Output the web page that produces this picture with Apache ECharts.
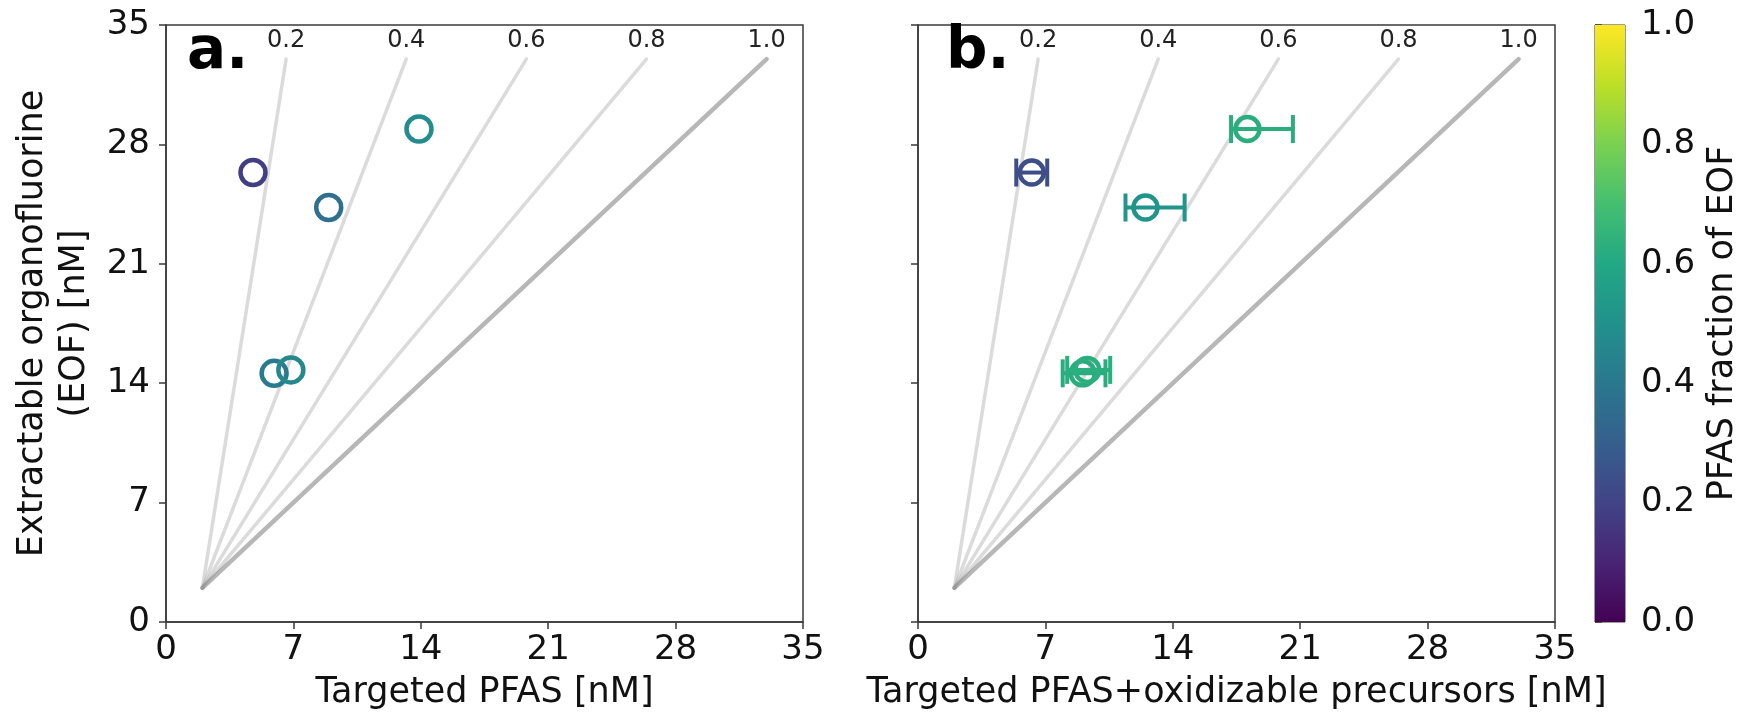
<!DOCTYPE html>
<html><head><meta charset="utf-8">
<script src="https://cdn.jsdelivr.net/npm/echarts@6/dist/echarts.min.js"></script>
<style>html,body{margin:0;padding:0;background:#fff}#c{width:1745px;height:717px}</style>
</head><body><div id="c"></div>
<script>
// ---- data ----
const axisMin = 0, axisMax = 35, axisStep = 7;
const ratioLines = [0.2, 0.4, 0.6, 0.8, 1.0];
const ratioLineStart = [2, 2];
const ratioLineTopEOF = 33;
const ratioLabelEOF = 34.1;
const eof = [26.35, 24.3, 28.9, 14.58, 14.78];
const targetedPFAS = [4.78, 8.94, 13.9, 5.94, 6.86];
const totalPFAS = [6.25, 12.5, 18.1, 9.05, 9.3];
const totalPFASLow = [5.4, 11.4, 17.2, 7.95, 8.2];
const totalPFASHigh = [7.1, 14.65, 20.6, 10.3, 10.56];
const colorbarMin = 0, colorbarMax = 1, colorbarStep = 0.2;
const viridis = ['#440154','#482475','#414487','#355f8d','#2a788e','#21918c','#22a884','#44bf70','#7ad151','#bddf26','#fde725'];

const FONT = '"DejaVu Sans", "Liberation Sans", sans-serif';
const AX = '#3a3a3a';
const TXT = '#111';

const ratioData = ratioLines.map(f => [f * ratioLineTopEOF, ratioLineTopEOF, f]);
const dataA = targetedPFAS.map((x, i) => [x, eof[i], x / eof[i]]);
const dataB = totalPFAS.map((x, i) => [x, eof[i], x / eof[i], totalPFASLow[i], totalPFASHigh[i]]);

function ratioRender(params, api) {
  const f = api.value(2);
  const p0 = api.coord(ratioLineStart);
  const p1 = api.coord([api.value(0), api.value(1)]);
  const pl = api.coord([api.value(0), ratioLabelEOF]);
  const main = f === 1;
  return {type: 'group', children: [
    {type: 'line', shape: {x1: p0[0], y1: p0[1], x2: p1[0], y2: p1[1]},
     style: {stroke: main ? 'rgba(135,135,135,0.6)' : 'rgba(175,175,175,0.45)', lineWidth: main ? 4.5 : 3.5, lineCap: 'round'}},
    {type: 'text', x: pl[0], y: pl[1],
     style: {text: f.toFixed(1), font: '24px ' + FONT, fill: '#222', align: 'center', verticalAlign: 'middle'}}
  ]};
}
function markerRender(params, api) {
  const c = api.coord([api.value(0), api.value(1)]);
  return {type: 'circle', shape: {cx: c[0], cy: c[1], r: 12.5},
    style: {fill: 'none', stroke: api.visual('color'), lineWidth: 4.5}};
}
function errRender(params, api) {
  const c = api.coord([api.value(0), api.value(1)]);
  const lo = api.coord([api.value(3), api.value(1)]);
  const hi = api.coord([api.value(4), api.value(1)]);
  const col = api.visual('color');
  const cap = 14, lw = 4;
  return {type: 'group', children: [
    {type: 'line', shape: {x1: lo[0], y1: c[1], x2: hi[0], y2: c[1]}, style: {stroke: col, lineWidth: lw}},
    {type: 'line', shape: {x1: lo[0], y1: c[1] - cap, x2: lo[0], y2: c[1] + cap}, style: {stroke: col, lineWidth: lw}},
    {type: 'line', shape: {x1: hi[0], y1: c[1] - cap, x2: hi[0], y2: c[1] + cap}, style: {stroke: col, lineWidth: lw}},
    {type: 'circle', shape: {cx: c[0], cy: c[1], r: 12}, style: {fill: 'none', stroke: col, lineWidth: 4.5}}
  ]};
}
function colorbarRender(params, api) {
  const p0 = api.coord([0, colorbarMin]);
  const p1 = api.coord([1, colorbarMax]);
  return {type: 'rect', shape: {x: p0[0], y: p1[1], width: p1[0] - p0[0], height: p0[1] - p1[1]},
    style: {fill: new echarts.graphic.LinearGradient(0, 1, 0, 0,
      viridis.map((c, i) => ({offset: i / (viridis.length - 1), color: c})))}};
}

function xAx(gi, name) {
  return {gridIndex: gi, type: 'value', min: axisMin, max: axisMax, interval: axisStep,
    axisLine: {show: true, onZero: false, lineStyle: {color: AX, width: 1.5}},
    axisTick: {show: true, inside: false, length: 7, lineStyle: {color: AX, width: 1.5}},
    axisLabel: {fontSize: 34, fontFamily: FONT, color: TXT, margin: 11},
    splitLine: {show: false},
    name: name, nameLocation: 'middle', nameGap: 53,
    nameTextStyle: {fontSize: 35, fontFamily: FONT, color: TXT}};
}
function yAx(gi, labels) {
  const a = {gridIndex: gi, type: 'value', min: axisMin, max: axisMax, interval: axisStep,
    axisLine: {show: true, onZero: false, lineStyle: {color: AX, width: 1.5}},
    axisTick: {show: true, inside: false, length: 7, lineStyle: {color: AX, width: 1.5}},
    axisLabel: {show: labels, fontSize: 34, fontFamily: FONT, color: TXT, margin: 16},
    splitLine: {show: false}};
  if (labels) {
    a.name = 'Extractable organofluorine\n(EOF) [nM]';
    a.nameLocation = 'middle'; a.nameRotate = 90; a.nameGap = 70;
    a.nameTextStyle = {fontSize: 35, fontFamily: FONT, color: TXT, lineHeight: 42};
  }
  return a;
}

const chart = echarts.init(document.getElementById('c'), null, {renderer: 'canvas'});
chart.setOption({
  backgroundColor: '#fff',
  animation: false,
  grid: [
    {left: 166, top: 25, width: 637, height: 597, show: true, borderColor: AX, borderWidth: 1.5, backgroundColor: 'transparent'},
    {left: 918, top: 25, width: 637, height: 597, show: true, borderColor: AX, borderWidth: 1.5, backgroundColor: 'transparent'},
    {left: 1595, top: 25, width: 30, height: 597, show: true, borderColor: AX, borderWidth: 1, backgroundColor: 'transparent'}
  ],
  xAxis: [
    xAx(0, 'Targeted PFAS [nM]'),
    xAx(1, 'Targeted PFAS+oxidizable precursors [nM]'),
    {gridIndex: 2, type: 'value', min: 0, max: 1, show: false}
  ],
  yAxis: [
    yAx(0, true),
    yAx(1, false),
    {gridIndex: 2, type: 'value', position: 'right', min: colorbarMin, max: colorbarMax, interval: colorbarStep,
     axisLine: {show: true, lineStyle: {color: AX, width: 1}},
     axisTick: {show: true, inside: false, length: 7, lineStyle: {color: AX, width: 1.5}},
     axisLabel: {fontSize: 34, fontFamily: FONT, color: TXT, margin: 16, formatter: v => v.toFixed(1)},
     splitLine: {show: false},
     name: 'PFAS fraction of EOF', nameLocation: 'middle', nameRotate: 90, nameGap: 80,
     nameTextStyle: {fontSize: 35, fontFamily: FONT, color: TXT}}
  ],
  visualMap: {type: 'continuous', show: false, min: colorbarMin, max: colorbarMax, dimension: 2,
    seriesIndex: [1, 3], inRange: {color: viridis}},
  graphic: [
    {type: 'text', left: 187, top: 24, style: {text: 'a.', font: 'bold 58px ' + FONT, fill: '#000'}},
    {type: 'text', left: 946, top: 24, style: {text: 'b.', font: 'bold 58px ' + FONT, fill: '#000'}}
  ],
  series: [
    {type: 'custom', xAxisIndex: 0, yAxisIndex: 0, renderItem: ratioRender, data: ratioData, encode: {x: 0, y: 1}, z: 1, silent: true},
    {type: 'custom', xAxisIndex: 0, yAxisIndex: 0, renderItem: markerRender, data: dataA, encode: {x: 0, y: 1}, z: 3},
    {type: 'custom', xAxisIndex: 1, yAxisIndex: 1, renderItem: ratioRender, data: ratioData, encode: {x: 0, y: 1}, z: 1, silent: true},
    {type: 'custom', xAxisIndex: 1, yAxisIndex: 1, renderItem: errRender, data: dataB, encode: {x: 0, y: 1}, z: 3},
    {type: 'custom', xAxisIndex: 2, yAxisIndex: 2, renderItem: colorbarRender, data: [[0, 0]], encode: {x: 0, y: 1}, z: 1, silent: true}
  ]
});
</script></body></html>
